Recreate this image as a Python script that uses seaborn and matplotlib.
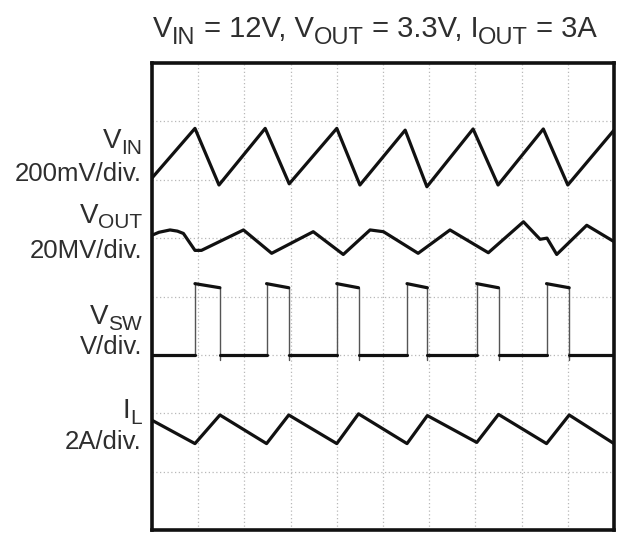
import matplotlib
matplotlib.use('Agg')
import matplotlib.pyplot as plt
import matplotlib.transforms as mtrans
import numpy as np
import pandas as pd
import seaborn as sns

# scope traces in divisions (x: 0..10, y: 0..8 from bottom)
vin_x = [0.0, 0.93, 1.45, 2.45, 2.97, 4.0, 4.5, 5.48, 5.95, 6.95, 7.49, 8.47, 9.0, 10.0]
vin_y = [6.03, 6.88, 5.91, 6.88, 5.93, 6.88, 5.91, 6.85, 5.88, 6.87, 5.91, 6.87, 5.91, 6.85]

vout_x = [0.0, 0.15, 0.39, 0.55, 0.68, 0.93, 1.07, 1.98, 2.59, 3.49, 4.14, 4.72, 5.01, 5.76,
          6.45, 7.28, 8.04, 8.4, 8.55, 8.76, 9.41, 10.0]
vout_y = [5.05, 5.1, 5.14, 5.12, 5.08, 4.79, 4.79, 5.14, 4.74, 5.11, 4.72, 5.14, 5.11, 4.74,
          5.14, 4.75, 5.28, 4.98, 5.0, 4.72, 5.22, 4.94]

sw_rise = [0.93, 2.48, 4.0, 5.52, 7.03, 8.54]
sw_fall = [1.47, 2.96, 4.47, 5.96, 7.5, 9.03]
sw_low = 3.0
sw_high = [4.22, 4.15]

il_x = [0.0, 0.93, 1.47, 2.48, 2.96, 4.0, 4.47, 5.52, 5.96, 7.03, 7.5, 8.54, 9.03, 10.0]
il_y = [1.88, 1.48, 1.97, 1.48, 1.97, 1.48, 1.99, 1.48, 1.96, 1.50, 1.98, 1.48, 1.97, 1.48]

title_parts = [("V", 0), ("IN", 1), (" = 12V, V", 0), ("OUT", 1),
               (" = 3.3V, I", 0), ("OUT", 1), (" = 3A", 0)]
labels = [
    ([("V", 0), ("IN", 1)], "200mV/div.", 148, 181),
    ([("V", 0), ("OUT", 1)], "20MV/div.", 223, 258),
    ([("V", 0), ("SW", 1)], "V/div.", 324, 353.5),
    ([("I", 0), ("L", 1)], "2A/div.", 418, 449),
]

sns.set_style('white')
plt.rcParams['font.family'] = ['Liberation Sans', 'DejaVu Sans']

W, H = 621, 534
fig = plt.figure(figsize=(W / 100, H / 100), dpi=100)
ax = fig.add_axes([152 / W, 4 / H, 462 / W, 467 / H])

# switch node: horizontal parts thick, fast edges thin
hx, hy, hs = [], [], []
ex, ey, es = [], [], []
seg = 0
prev = 0.0
for r, f in zip(sw_rise, sw_fall):
    hx += [prev, r]; hy += [sw_low, sw_low]; hs += [seg, seg]; seg += 1
    hx += [r, f]; hy += [sw_high[0], sw_high[1]]; hs += [seg, seg]; seg += 1
    ex += [r, r]; ey += [sw_low, sw_high[0]]; es += [seg, seg]; seg += 1
    ex += [f, f]; ey += [sw_high[1], sw_low - 0.08]; es += [seg, seg]; seg += 1
    prev = f
hx += [prev, 10.0]; hy += [sw_low, sw_low]; hs += [seg, seg]

sw_flat = pd.DataFrame({'x': hx, 'y': hy, 'seg': hs})
sw_edge = pd.DataFrame({'x': ex, 'y': ey, 'seg': es})

sns.lineplot(data=sw_edge, x='x', y='y', units='seg', estimator=None, sort=False,
             color='#555555', lw=1.0, ax=ax)
sns.lineplot(data=sw_flat, x='x', y='y', units='seg', estimator=None, sort=False,
             color='#111111', lw=2.3, ax=ax)
for xs, ys in [(vin_x, vin_y), (vout_x, vout_y), (il_x, il_y)]:
    sns.lineplot(x=xs, y=ys, sort=False, estimator=None, color='#111111', lw=2.3, ax=ax)

ax.set_xlim(0, 10)
ax.set_ylim(0, 8)
ax.set_xticks([])
ax.set_yticks([])
ax.set_xlabel('')
ax.set_ylabel('')
for k in range(1, 10):
    ax.axvline(k, color='#b8b8b8', lw=0.9, ls=(0, (1, 2)), zorder=0)
for k in range(1, 8):
    ax.axhline(k, color='#b8b8b8', lw=0.9, ls=(0, (1, 2)), zorder=0)
for s in ax.spines.values():
    s.set_color('#111111')
    s.set_linewidth(2.6)

renderer = fig.canvas.get_renderer()


def width(s, size):
    a = fig.text(0, 0, 'x' + s + 'x', fontsize=size)
    b = fig.text(0, 0, 'xx', fontsize=size)
    w = a.get_window_extent(renderer).width - b.get_window_extent(renderer).width
    a.remove()
    b.remove()
    return w


def rich(parts, x, y, ha, size, sub_size, drop, color):
    ws = [width(s, sub_size if sub else size) for s, sub in parts]
    x0 = x - sum(ws) if ha == 'right' else x
    for (s, sub), w in zip(parts, ws):
        fig.text(x0, H - y - (drop if sub else 0), s, fontsize=sub_size if sub else size,
                 transform=mtrans.IdentityTransform(), ha='left', va='baseline', color=color)
        x0 += w


rich(title_parts, 153, 37, 'left', 21, 17, 6.5, '#2e2e2e')
for parts, scale, yb, ys in labels:
    rich(parts, 142, yb, 'right', 20, 15, 5.5, '#2e2e2e')
    fig.text(142, H - ys, scale, fontsize=18.5, transform=mtrans.IdentityTransform(),
             ha='right', va='baseline', color='#2e2e2e')

fig.savefig('out.png', dpi=100)
